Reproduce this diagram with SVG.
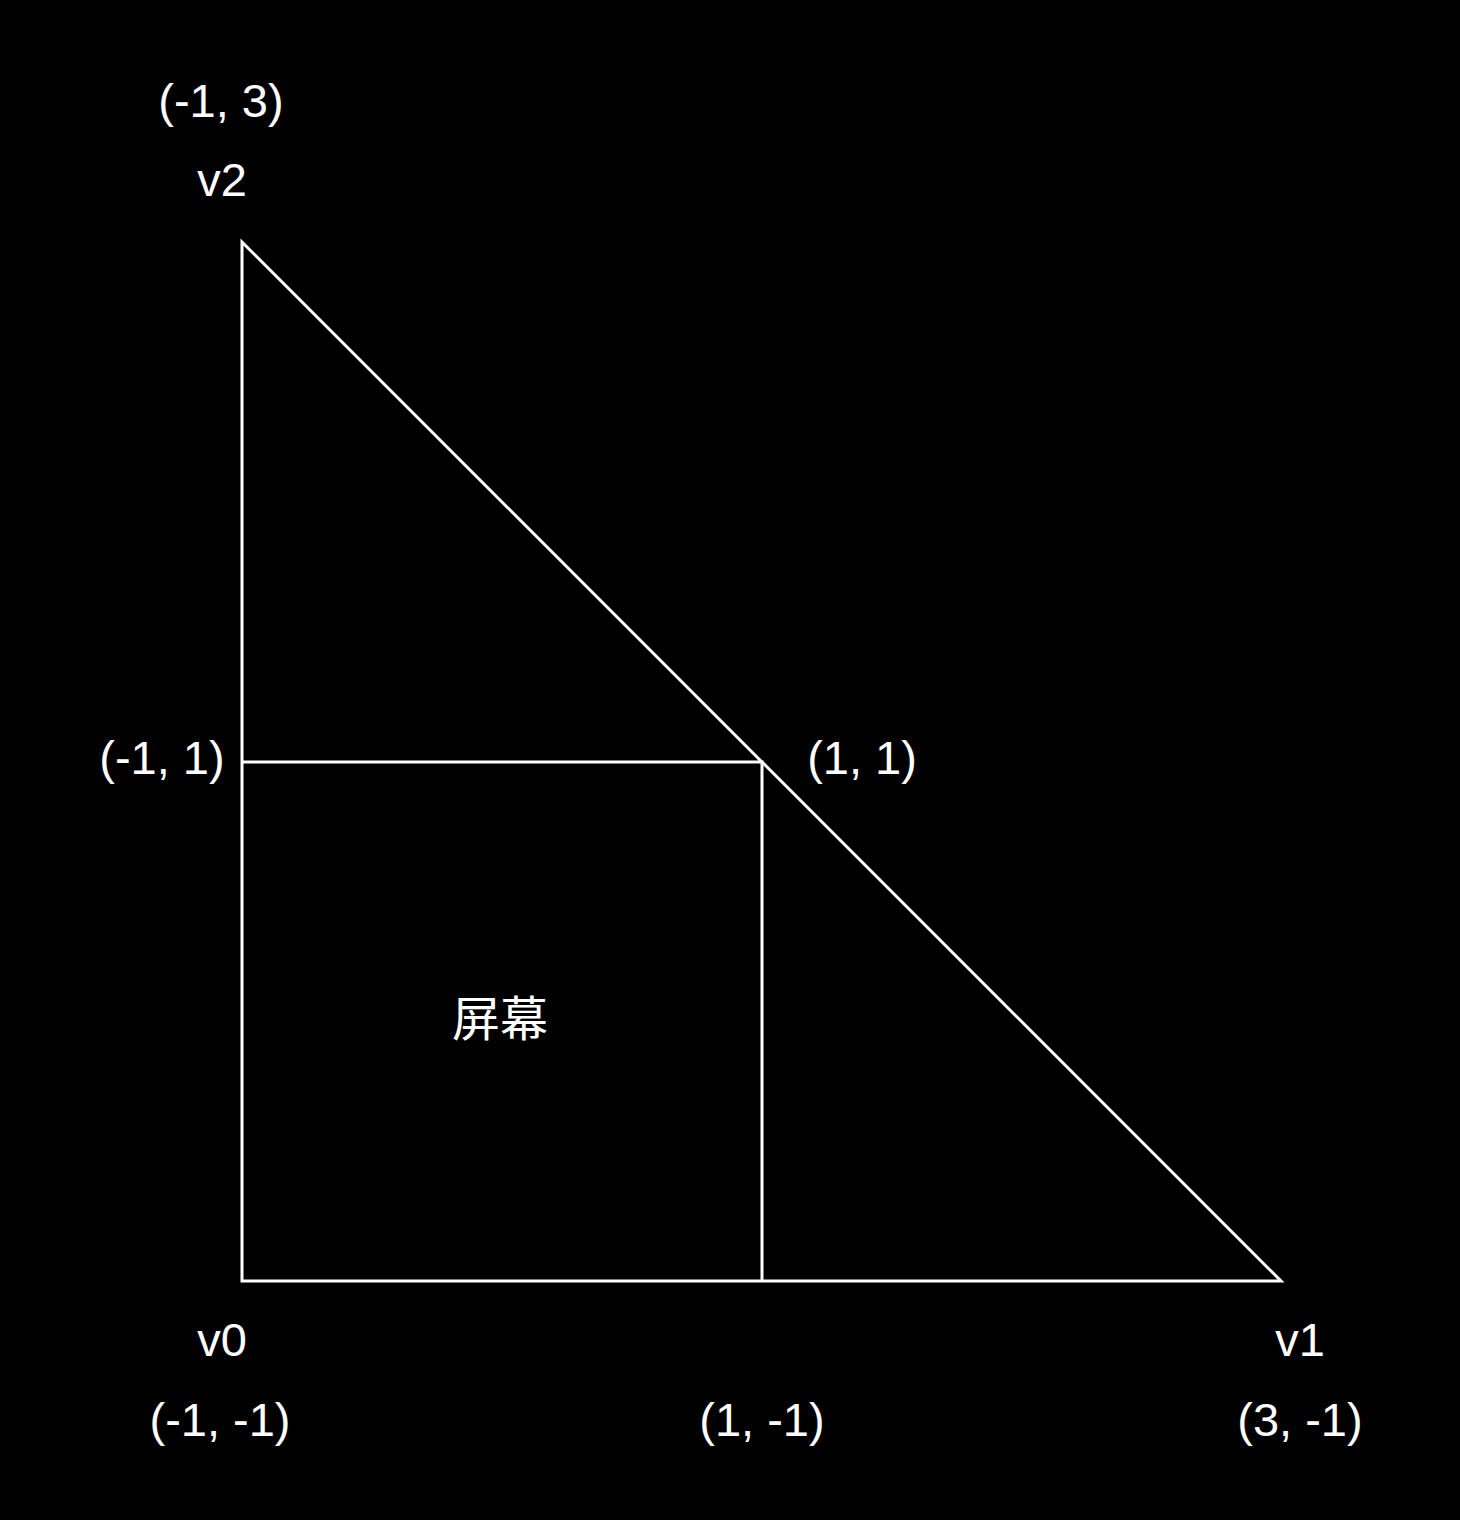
<svg xmlns="http://www.w3.org/2000/svg" width="1460" height="1520" viewBox="0 0 1460 1520">
<style>
text{font-family:"Liberation Sans","Noto Sans CJK SC",sans-serif;font-size:47px;fill:#fff;text-anchor:middle}
.ln{stroke:#fff;stroke-width:3;fill:none}
</style>
<rect width="1460" height="1520" fill="#000"/>
<g id="connectors">
<path class="ln" d="M242 242 L1281 1281 L242 1281 Z"/>
<path class="ln" d="M242 762 H762 V1281"/>
</g>
<g id="v2"><text x="221" y="117">(-1, 3)</text><text x="222" y="196">v2</text></g>
<g id="p-1-1"><text x="162" y="774">(-1, 1)</text></g>
<g id="p11"><text x="862" y="774">(1, 1)</text></g>
<g id="screen"><text x="500" y="1036" style="font-size:48px">屏幕</text></g>
<g id="v0"><text x="222" y="1356">v0</text><text x="220" y="1436">(-1, -1)</text></g>
<g id="p1-1"><text x="762" y="1436">(1, -1)</text></g>
<g id="v1"><text x="1300" y="1356">v1</text><text x="1300" y="1436">(3, -1)</text></g>
</svg>
